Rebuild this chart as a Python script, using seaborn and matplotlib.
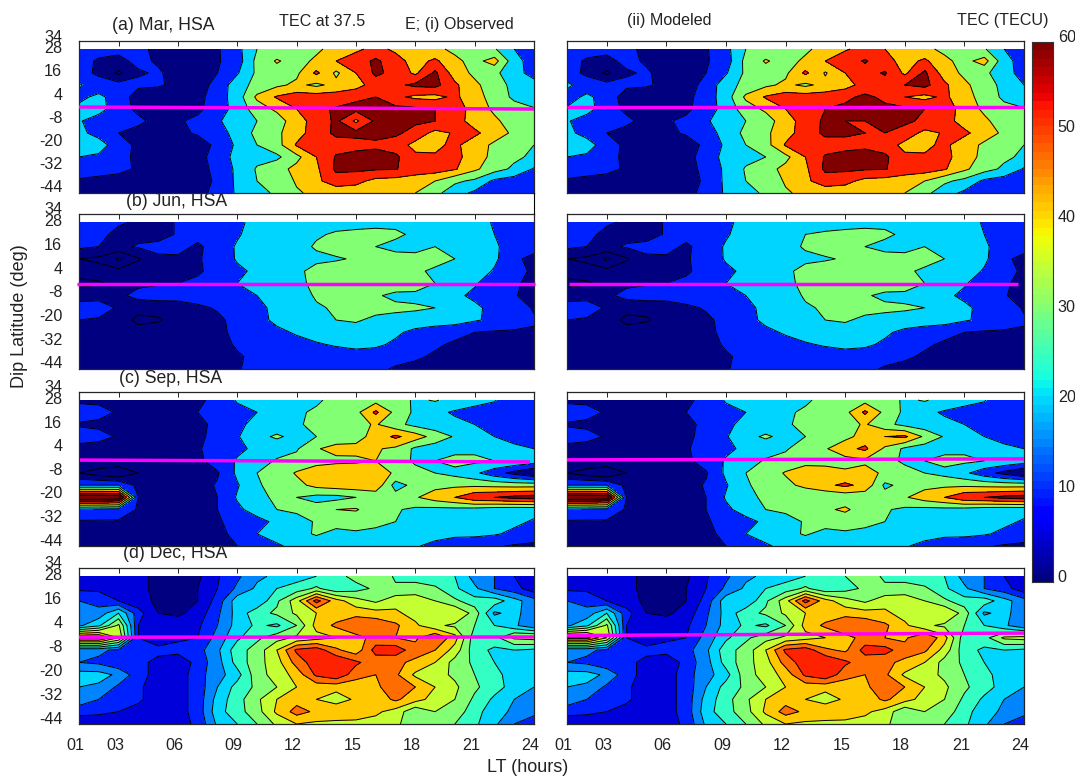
import numpy as np
import matplotlib
matplotlib.use('Agg')
import matplotlib.pyplot as plt
from matplotlib.colors import ListedColormap
from matplotlib.lines import Line2D
import seaborn as sns

lt_hours = list(range(1, 25))
dip_lat = [28, 22, 16, 10, 4, -2, -8, -14, -20, -26, -32, -38, -44]

mar_obs = [
 [14,13,12,11,9,6,6,9,17,30,34,37,38,44,48,53,48,45,42,38,35,31,20,15],
 [13,9,8,12,9,6,6,9,15,33,41,36,42,50,55,62,54,46,52,42,37,44,24,15],
 [14,8,-2,9,11,7,6,10,19,32,36,38,52,38,50,62,57,48,62,45,38,33,22,18],
 [21,15,14,12,11,8,6,13,26,33,38,42,38,43,46,55,58,62,63,52,42,35,27,22],
 [18,22,16,5,5,7,7,15,25,42,51,55,55,55,58,60,52,48,47,52,44,36,28,23],
 [22,24,14,8,6,6,8,15,24,35,42,50,58,61,63,65,63,62,60,55,46,38,34,31],
 [21,15,12,12,7,9,12,18,28,30,35,46,54,62,48,62,63,62,60,54,46,42,35,31],
 [23,16,10,7,6,8,11,14,25,32,38,46,55,62,63,63,62,56,47,51,52,45,38,33],
 [29,25,14,8,6,6,6,12,22,30,36,51,54,56,56,58,55,47,48,52,45,38,34,30],
 [20,18,13,8,7,6,6,15,23,27,28,37,50,61,64,64,62,52,51,53,45,37,32,28],
 [14,13,12,9,6,6,6,13,22,31,36,43,48,62,62,61,60.5,56,55,51,42,34,28,19],
 [9,8,7,6,5,5,5,12,22,30,34,41,48,55,53,47,46,44,40,32,28,18,15,14],
 [6,6,6,5,5,5,5,15,21,28,31,39,42,44,44,44,43,40,33,24,18,15,14,13],
]
mar_mod = [
 [14,13,12,11,9,6,6,9,17,30,34,37,38,44,49,53,50,45,42,38,35,31,20,15],
 [13,9,8,12,9,6,6,9,15,33,41,36,42,50,55,61,54,46,52,42,37,44,24,15],
 [14,8,-2,9,11,7,6,10,19,32,36,38,52,39,50,56,61,48,62,45,38,33,22,18],
 [22,15,14,12,11,8,6,13,26,33,38,42,38,43,46,54,56,60,63,52,42,35,27,20],
 [16,22,16,5,5,7,7,15,25,42,51,55,55,55,58,62,58,50,47,52,44,36,28,21],
 [21,24,14,8,6,6,8,15,24,35,42,50,58,60,62,65,62,62,60,55,46,38,33,31],
 [21,15,12,12,7,9,12,18,28,30,35,46,54,62,60,60,63,62,58,54,46,42,35,31],
 [23,16,10,7,6,8,11,14,25,32,38,46,55,62,62,60,60,56,47,51,52,45,38,33],
 [30,25,14,8,6,6,6,12,22,30,36,51,54,56,56,58,55,47,48,52,45,38,34,30],
 [20,18,13,8,7,6,6,15,23,27,30,37,50,61,64,64,62,52,51,53,45,37,32,28],
 [14,13,12,9,6,6,6,13,22,31,36,43,48,62,62,61,60.5,56,55,51,42,34,28,19],
 [9,8,7,6,5,5,5,12,22,30,34,41,48,55,53,47,46,44,40,32,27,18,15,14],
 [6,6,6,5,5,5,5,15,21,28,31,39,42,44,44,44,43,40,33,24,18,15,14,13],
]
jun_obs = [
 [13,12,11,9,8,10.5,13,15,18,23,25,26,27,27,27,27,27,26,26,25,24,19,16,14],
 [13,12,8,7,6,11,14,16,19,24,26,27,29,31,32,33,32,28,26,25,24,20,16,14],
 [12,10,8,11,13,14,8,15,21,24,25,27,31,34,34,30,27,27,30,26,25,21,17,14],
 [0,-2,-12,-1,8,8,9,14,21,25,26,27,28,29,31,33,34,33,34,30,26,22,12,7],
 [5,4,3,5,7,8,8,15,18,22,25,28,33,35,36,36,36,32,28,27,25,19,14,8],
 [-3,-1,2,8,9,10,13,17,20,24,26,28,32,34,35,34,35,34,30,25,21,15,11,8],
 [6,7,8,13,15,14,15,17,18,20,25,26,31,33,32,31,28,28,27,22,18,13,11,5],
 [14,14,9,4,3,5,8,11,14,19,21,24,29,31,33,33,32,31,30,24,22,17,15,9],
 [10,9,6,-3,-1,4,6,8,13,17,22,27,28,30,31,28,27,27,26,25,21,18,14,11],
 [6,6,5,5,5,5,6,8,12,15,18,21,24,25,26,25,22,17,14,12,10,9,9,9],
 [5,5,5,5,5,5,5,7,11,13,15,17,19,21,23,22,18,14,11,9,8,8,8,8],
 [5,5,5,5,5,5,5,6,9,12,13,14,14,15,15,14,13,11,9,8,7,7,7,7],
 [5,5,5,5,5,5,5,5,9.5,12,13,13,13,13,13,12,9,8,7,7,7,7,6,6],
]
jun_mod = [
 [13,12,11,9,8,10.5,13,15,18,23,25,26,27,27,27,27,27,26,26,25,24,19,16,14],
 [13,12,8,7,6,11,14,16,19,24,26,27,30,31,32,33,32,28,26,25,24,20,16,14],
 [12,10,8,11,13,14,8,15,21,24,25,27,31,34,34,30,27,27,30,26,25,21,17,14],
 [0,-2,-12,-1,8,8,9,14,21,25,26,27,28,29,31,33,34,33,34,30,26,22,12,7],
 [5,4,3,5,7,8,8,15,18,22,25,28,33,35,36,36,36,32,28,27,25,19,14,8],
 [-3,-1,2,8,9,10,13,17,20,24,26,28,32,34,35,34,35,34,30,25,21,15,11,8],
 [6,7,8,13,15,14,15,17,18,20,25,26,31,33,32,31,28,28,27,22,18,13,11,5],
 [14,14,9,4,3,5,8,11,14,19,21,24,29,31,33,33,32,31,30,24,22,17,15,9],
 [10,9,6,-3,-1,4,6,8,13,17,22,27,28,30,31,28,27,27,26,25,21,18,14,11],
 [6,6,5,5,5,5,6,8,12,15,18,21,24,25,26,25,22,17,14,12,10,9,9,9],
 [5,5,5,5,5,5,5,7,11,13,15,17,19,21,23,22,18,14,11,9,8,8,8,8],
 [5,5,5,5,5,5,5,6,9,12,13,14,14,15,15,14,13,11,9,8,7,7,7,7],
 [5,5,5,5,5,5,5,5,9.5,12,13,13,13,13,13,12,9,8,7,7,7,7,6,6],
]
sep_obs = [
 [8,8,5,7,7,7,8,13,21,23,25,27,29,32,34,36,36,28,31,26,22,21,10,13],
 [15,13,9,5,7,7,10,15,17,20,24,29,31,33,37,52,37,28,22,19,18,14,13,12],
 [9,8,8,7,7,7,8,12,17,24,26,29,32,34,37,41,33,27,24,22,20,17,15,13],
 [14,13,9,7,7,7,8,13,19,28,31,28,30,33,36,44,52,45,36,29,24,20,17,14],
 [7,6,6,5,5,6,9,14,18,22,26,29,39,44,43,41,38,28,25,27,28,25,22,20],
 [9,9,9,8,7,7,8,14,21,26,31,33,35,37,38,40,36,28,30,33,32,30,28,25],
 [0,-5,-10,0,6,6,6,9,22,30,34,41,48,50,49,47,38,34,30,27,22,14,7,0],
 [20,20,20,7,7,6,6,11,19,29,33,37,43,45,46,47,26,33,37,38,38,37,36,36],
 [80,80,78,10,7,6,6,10,21,27,32,30,27,27,30,33,34,39,45,50,58,60,63,65],
 [18,17,16,9,7,6,5,10,18,24,30,32,34,40,41,34,31,28,27,27,26,24,23,23],
 [9,9,9,8,7,6,5,9,13,17,22,26,31,34,33,31,30,25,24,30,24,22,22,19],
 [7,7,7,7,6,6,6,8,12,20,23,27,31,27,29,29,30,26,24,22,22,21,18,15],
 [6,6,6,6,6,6,6,6,10,14,19,22,24,25,25,25,24,21,17,15,14,11,9,8],
]
sep_mod = [
 [8,8,5,7,7,7,8,13,21,23,25,27,29,32,34,36,36,28,31,26,22,21,10,13],
 [15,13,9,5,7,7,10,15,17,20,24,29,31,33,37,52,37,28,22,19,18,14,13,12],
 [9,8,8,7,7,7,8,12,17,24,26,29,32,34,37,41,33,27,24,22,20,17,15,13],
 [14,13,9,7,7,7,8,13,19,28,31,28,30,33,37,44,50,52,38,29,24,20,17,14],
 [7,6,6,5,5,6,9,14,18,22,26,29,35,39,47,52,38,28,25,27,28,25,22,20],
 [9,9,9,8,7,7,8,14,21,26,31,33,35,37,36,38,34,28,30,33,32,30,28,25],
 [0,-5,-10,0,6,6,6,9,22,30,34,41,48,44,42,44,38,34,30,27,22,14,7,0],
 [20,20,20,7,7,6,6,11,19,29,33,37,43,48,52,47,28,33,37,38,38,37,36,36],
 [80,80,78,10,7,6,6,10,21,27,32,31,30,31,33,33,34,39,45,50,58,60,63,65],
 [18,17,16,9,7,6,5,10,18,24,30,32,34,38,42,34,31,28,27,27,26,24,23,23],
 [9,9,9,8,7,6,5,9,13,17,22,26,31,34,33,31,30,25,24,30,24,22,22,19],
 [7,7,7,7,6,6,6,8,12,20,23,27,31,27,29,29,30,26,24,22,22,21,18,15],
 [6,6,6,6,6,6,6,6,10,14,19,22,24,25,25,25,24,21,17,15,14,11,9,8],
]
dec_obs = [
 [9,9,8,6,4,4,4,9.5,14,19,21,23,25,28,32,35,29,27,26,25,18,15,10,8],
 [9,9,8,6,4,4,5,10,16,21,25,27,31,26,28,31,31,33,31,26,21,15,12,7],
 [15,13,10,7,4,4,5,12,23,21,29,38,52,42,37,34,38,37,35,31,27,28,22,17],
 [18,17,25,12,5,4,7,14,22,28,31,36,40,42,43,42,41,38,37,40,33,19,22,16],
 [19,24,36,10,7,8,9,15,22,26,24,30,42,46,50,49,46,41,36,34,30,25,21,16],
 [52,52,40,10,8,9,10,17,24,29,33,36,38,40,43,47,45,44,50,42,27,28,36,37],
 [16,16,14,12,11,12,13,19,28,32,40,51,53,46,42,52,53,47,45,38,27,24,25,24],
 [15,14,11,11,9,6,12,18,27,33,38,47,53,55,51,47,46,44,40,33,29,25,22,21],
 [22,22,19,12,8,7,13,18,23,33,37,42,51,54,47,45,46,39,37,34,30,27,22,22],
 [20,19,14,11,7,8,12,20,27,31,35,40,42,42,42,44,48,45,40,36,31,27,23,20],
 [18,15,12,11,7,8,12,22,28,34,40,43,40,37,41,42,46,42,38,35,29,24,20,18],
 [12,11,10,8,7,8,12,23,28,33,41,47,44,45,42,41,38,31,35,33,27,22,19,17],
 [6,7,7,7,6,8,11,21,25,30,36,40,39,38,39,38,36,32,33,30,26,21,15,11],
]
dec_mod = [
 [9,9,8,6,4,4,4,9.5,14,19,21,23,25,28,30,33,29,27,26,25,18,15,10,8],
 [9,9,8,6,4,4,5,10,16,21,25,27,31,26,28,31,31,33,31,26,21,15,12,7],
 [15,13,10,7,4,4,5,12,23,21,29,38,52,42,37,34,38,37,35,31,27,28,22,17],
 [18,17,25,12,5,4,7,14,22,28,31,36,40,42,43,42,41,38,37,40,33,19,22,16],
 [19,24,36,10,7,8,9,15,22,26,24,30,42,46,50,49,46,41,36,34,30,25,21,16],
 [52,52,40,10,8,9,10,17,24,29,33,36,38,40,43,47,45,44,50,42,27,28,36,37],
 [16,16,14,12,11,12,13,19,28,32,40,51,53,46,44,52,52,47,46,38,27,24,25,24],
 [15,14,11,11,9,6,12,18,27,33,38,47,53,55,51,47,46,44,40,33,29,25,22,21],
 [22,22,19,12,8,7,13,18,23,33,37,42,51,54,47,45,46,39,37,34,30,27,22,22],
 [20,19,14,11,7,8,12,20,27,31,35,40,42,42,42,44,48,45,40,36,31,27,23,20],
 [18,15,12,11,7,8,12,22,28,34,40,43,40,37,41,42,46,42,38,35,29,24,20,18],
 [12,11,10,8,7,8,12,23,28,33,41,47,44,45,42,41,38,31,35,33,27,22,19,17],
 [6,7,7,7,6,8,11,21,25,30,36,40,39,38,39,38,36,32,33,30,26,21,15,11],
]

# dip equator, local time and latitude at the two ends of each panel
eq_lt_obs = [[1, 24], [0.9, 24.05], [1.05, 23.8], [1, 24]]
eq_lt_mod = [[1, 24], [1.1, 23.7], [1, 24], [1, 24]]
eq_obs = [[-1.0, -2.0], [-2.4, -2.4], [-1.6, -2.5], [-1.7, -1.6]]
eq_mod = [[-1.2, -1.2], [-2.4, -2.4], [-1.5, -1.0], [-0.9, 0.3]]

panel_names = ['(a) Mar, HSA', '(b) Jun, HSA', '(c) Sep, HSA', '(d) Dec, HSA']
x_ticks = [3, 6, 9, 12, 15, 18, 21, 24]
x_label_vals = [1, 3, 6, 9, 12, 15, 18, 21, 24]
y_labels = [34, 28, 16, 4, -8, -20, -32, -44]
cbar_ticks = [0, 10, 20, 30, 40, 50, 60]

sns.set_style('ticks')
plt.rcParams['font.family'] = ['Liberation Sans', 'DejaVu Sans']
plt.rcParams['axes.linewidth'] = 0.9

W, H = 1075, 776
FS = 11.6
INK = '#222222'
fig = plt.figure(figsize=(W / 100, H / 100), dpi=100)
jet64 = ListedColormap(matplotlib.colormaps['jet'](np.linspace(0, 1, 64)))


def px_axes(x0, y0, x1, y1):
    return fig.add_axes([x0 / W, 1 - y1 / H, (x1 - x0) / W, (y1 - y0) / H])


def px_text(x, y, s, size=FS, **kw):
    fig.text(x / W, 1 - y / H, s, fontsize=size, color=INK, va='center', **kw)


def band_color(level):
    # the warm end of the reference sits a bit further along jet than matplotlib's
    pos = float(min(max(level / 60, 0), 1))
    if 0.6 < pos < 1:
        pos = pos + 0.035
    return jet64(pos)


def draw_panel(ax, tec, levels, eq_x, eq, show_y, show_x):
    tec = np.array(tec, dtype=float)
    ax.contourf(lt_hours, dip_lat, tec, levels=levels, colors=[band_color(l) for l in levels[:-1]])
    ax.contour(lt_hours, dip_lat, tec, levels=levels, colors='k', linewidths=0.7)
    ax.plot(eq_x, eq, color='#ff00ff', lw=2.5, solid_capstyle='butt', clip_on=False, zorder=5)
    ax.set_xlim(1, 24)
    ax.set_ylim(-44, 32)
    ax.set_xticks(x_ticks)
    ax.set_yticks(list(range(-44, 29, 6)))
    ax.set_xticklabels([])
    ax.set_yticklabels([])
    ax.tick_params(direction='in', top=True, right=True, length=3.5, width=0.7, colors=INK)
    if show_x:
        for val in x_label_vals:
            ax.annotate(f'{val:02d}', xy=(val, 0), xycoords=ax.get_xaxis_transform(),
                        xytext=(-2.5, -10), textcoords='offset points', ha='center', va='top',
                        fontsize=FS, color=INK, annotation_clip=False)
    if show_y:
        for val in y_labels:
            # the printed labels creep upwards from the ticks towards the bottom of a panel
            shift = 3.6 * (34 - val) / 78
            ax.annotate(str(val), xy=(0, val), xycoords=ax.get_yaxis_transform(),
                        xytext=(-12, shift), textcoords='offset points', ha='right', va='center',
                        fontsize=FS, color=INK, annotation_clip=False)


left_x = (79, 534)
right_x = (567, 1024)
rows_y = [(41, 193), (214, 369), (392, 546), (568, 724)]
obs_data = [mar_obs, jun_obs, sep_obs, dec_obs]
mod_data = [mar_mod, jun_mod, sep_mod, dec_mod]
levels_list = [np.arange(-30, 91, 10)] * 3 + [np.arange(-10, 71, 5)]

for i in range(4):
    y0, y1 = rows_y[i]
    ax_l = px_axes(left_x[0], y0, left_x[1], y1)
    draw_panel(ax_l, obs_data[i], levels_list[i], eq_lt_obs[i], eq_obs[i], True, i == 3)
    ax_r = px_axes(right_x[0], y0, right_x[1], y1)
    draw_panel(ax_r, mod_data[i], levels_list[i], eq_lt_mod[i], eq_mod[i], False, i == 3)

# stray frame line between the first two left panels
fig.add_artist(Line2D([534 / W, 534 / W], [1 - 193 / H, 1 - 214 / H], color='k', lw=0.8))

cax = px_axes(1032, 42, 1053, 582)
cbar_vals = np.linspace(60, 0, 64).reshape(-1, 1)
sns.heatmap(cbar_vals, cmap=jet64, vmin=0, vmax=60, cbar=False, ax=cax, xticklabels=False, yticklabels=False)
cax.set_ylim(64, 0)
for spine in cax.spines.values():
    spine.set_visible(True)
    spine.set_linewidth(0.8)
    spine.set_color('#333333')
cax.yaxis.tick_right()
cax.set_yticks([64 * (1 - v / 60) for v in cbar_ticks])
cax.set_yticklabels([])
cax.tick_params(axis='y', direction='in', length=3, width=0.7, colors=INK)
for val in cbar_ticks:
    cax.annotate(str(val), xy=(1, 64 * (1 - val / 60)), xycoords=cax.get_yaxis_transform(),
                 xytext=(3.5, 3), textcoords='offset points', ha='left', va='center',
                 fontsize=FS, color=INK, annotation_clip=False)

px_text(112, 25, panel_names[0], size=12.7)
px_text(126, 201, panel_names[1], size=12.7)
px_text(119, 378, panel_names[2], size=12.7)
px_text(123, 554, panel_names[3], size=12.7)
px_text(279, 21, 'TEC at 37.5')
px_text(405, 25, 'E; (i) Observed')
px_text(627, 21, '(ii) Modeled')
px_text(957, 21, 'TEC (TECU)')
px_text(528, 767, 'LT (hours)', size=13, ha='center')
fig.text(20 / W, 1 - 316 / H, 'Dip Latitude (deg)', fontsize=13, color=INK,
         rotation=90, ha='center', va='center')

fig.savefig('out.png', dpi=100)
